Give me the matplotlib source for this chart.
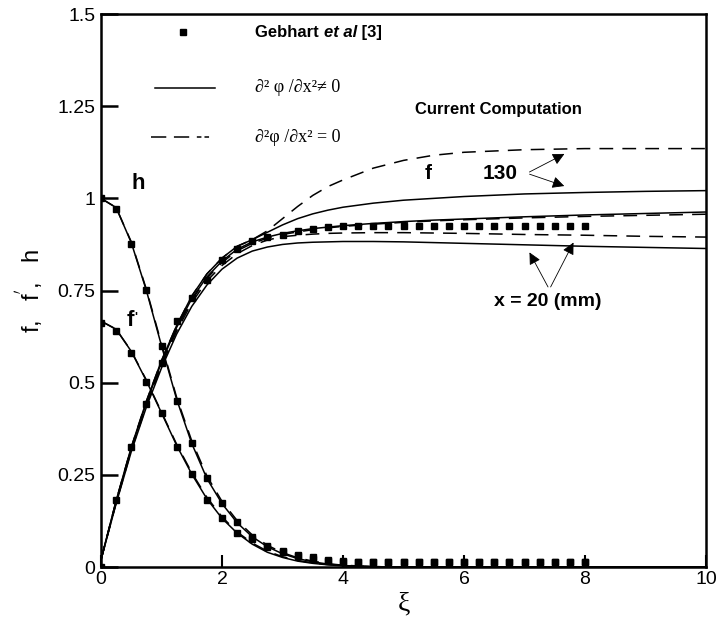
import matplotlib
matplotlib.use("Agg")
import matplotlib.pyplot as plt

plt.rcParams['font.family'] = ['Liberation Sans', 'DejaVu Sans']
plt.rcParams['font.size'] = 14

# ---- Gebhart et al [3] (square markers) ----
xi_m = [0, 0.25, 0.5, 0.75, 1.0, 1.25, 1.5, 1.75, 2.0, 2.25, 2.5, 2.75, 3.0,
        3.25, 3.5, 3.75, 4.0, 4.25, 4.5, 4.75, 5.0, 5.25, 5.5, 5.75, 6.0,
        6.25, 6.5, 6.75, 7.0, 7.25, 7.5, 7.75, 8.0]
h_m = [1.0, 0.97, 0.876, 0.751, 0.60, 0.451, 0.337, 0.241, 0.174, 0.123, 0.082,
       0.058, 0.044, 0.033, 0.027, 0.02, 0.016, 0.015, 0.014, 0.014, 0.014,
       0.014, 0.014, 0.014, 0.014, 0.014, 0.014, 0.014, 0.014, 0.014, 0.014,
       0.014, 0.014]
fp_m = [0.661, 0.641, 0.581, 0.503, 0.417, 0.326, 0.251, 0.182, 0.132, 0.093,
        0.075, 0.055, 0.04, 0.03, 0.022, 0.017, 0.015, 0.014, 0.014, 0.014,
        0.014, 0.014, 0.014, 0.014, 0.014, 0.014, 0.014, 0.014, 0.014, 0.014,
        0.014, 0.014, 0.014]
f_m = [0.0, 0.182, 0.325, 0.442, 0.554, 0.668, 0.729, 0.778, 0.833, 0.864,
       0.885, 0.894, 0.900, 0.911, 0.918, 0.922, 0.924, 0.925, 0.925, 0.925,
       0.925, 0.925, 0.925, 0.925, 0.925, 0.925, 0.925, 0.925, 0.925, 0.925,
       0.925, 0.925, 0.925]

# ---- current computation ----
xi = [0, 0.25, 0.5, 0.75, 1.0, 1.25, 1.5, 1.75, 2.0, 2.25, 2.5, 2.75, 3.0,
      3.25, 3.5, 3.75, 4.0, 4.5, 5.0, 5.5, 6.0, 7.0, 8.0, 9.0, 10.0]

h_solid = [1.0, 0.975, 0.88, 0.75, 0.60, 0.455, 0.335, 0.24, 0.172, 0.12, 0.082,
           0.055, 0.036, 0.023, 0.014, 0.008, 0.004, 0.001, 0, 0, 0, 0, 0, 0, 0]
h_dash = [1.0, 0.975, 0.882, 0.753, 0.605, 0.46, 0.342, 0.247, 0.178, 0.126,
          0.087, 0.059, 0.039, 0.025, 0.016, 0.009, 0.005, 0.001, 0, 0, 0, 0,
          0, 0, 0]
fp_solid = [0.667, 0.645, 0.585, 0.505, 0.418, 0.33, 0.252, 0.185, 0.132, 0.092,
            0.062, 0.04, 0.026, 0.016, 0.01, 0.006, 0.003, 0.001, 0, 0, 0, 0,
            0, 0, 0]
fp_dash = [0.667, 0.645, 0.586, 0.507, 0.42, 0.333, 0.256, 0.189, 0.136, 0.095,
           0.065, 0.043, 0.028, 0.018, 0.011, 0.007, 0.004, 0.001, 0, 0, 0, 0,
           0, 0, 0]

f130_dash = [0.02, 0.18, 0.325, 0.45, 0.56, 0.655, 0.735, 0.795, 0.838, 0.87,
             0.888, 0.912, 0.945, 0.978, 1.008, 1.032, 1.05, 1.082, 1.103,
             1.117, 1.125, 1.132, 1.135, 1.135, 1.135]
f130_solid = [0.02, 0.18, 0.325, 0.45, 0.56, 0.655, 0.735, 0.795, 0.838, 0.87,
              0.888, 0.908, 0.928, 0.945, 0.958, 0.968, 0.976, 0.987, 0.995,
              1.0, 1.005, 1.012, 1.016, 1.019, 1.021]
fmid_solid = [0.02, 0.178, 0.322, 0.446, 0.556, 0.65, 0.728, 0.787, 0.83, 0.862,
              0.882, 0.895, 0.905, 0.912, 0.918, 0.922, 0.926, 0.932, 0.937,
              0.941, 0.944, 0.95, 0.955, 0.959, 0.963]
fmid_dash = [0.02, 0.176, 0.32, 0.443, 0.552, 0.646, 0.724, 0.783, 0.826, 0.858,
             0.878, 0.892, 0.902, 0.909, 0.915, 0.92, 0.924, 0.93, 0.935,
             0.939, 0.942, 0.947, 0.951, 0.954, 0.957]
f20_dash = [0.02, 0.174, 0.316, 0.438, 0.546, 0.64, 0.717, 0.776, 0.818, 0.85,
            0.872, 0.887, 0.896, 0.9, 0.903, 0.905, 0.906, 0.907, 0.907,
            0.906, 0.905, 0.902, 0.9, 0.897, 0.895]
f20_solid = [0.02, 0.172, 0.313, 0.434, 0.54, 0.632, 0.707, 0.765, 0.808, 0.838,
             0.857, 0.868, 0.875, 0.879, 0.881, 0.882, 0.883, 0.883, 0.882,
             0.88, 0.878, 0.874, 0.87, 0.867, 0.864]

solid_curves = [h_solid, fp_solid, f130_solid, fmid_solid, f20_solid]
dash_curves = [h_dash, fp_dash, f130_dash, fmid_dash, f20_dash]

fig = plt.figure(figsize=(7.19, 6.32), dpi=100)
ax = fig.add_axes([0.1405, 0.1028, 0.8415, 0.8750])

for yy in solid_curves:
    ax.plot(xi, yy, color="black", lw=1.1)
for yy in dash_curves:
    ax.plot(xi, yy, color="black", lw=1.1, dashes=(9, 6))

for yy in [h_m, fp_m, f_m]:
    ax.plot(xi_m, yy, ls="none", marker="s", ms=4, color="black")

ax.set_xlim(0, 10)
ax.set_ylim(0, 1.5)
ax.set_xticks([0, 2, 4, 6, 8, 10])
ax.set_yticks([0, 0.25, 0.5, 0.75, 1.0, 1.25, 1.5])
ax.set_yticklabels(["0", "0.25", "0.5", "0.75", "1", "1.25", "1.5"])
ax.tick_params(axis="y", direction="in", length=12, width=1.8, labelsize=14, pad=4)
ax.tick_params(axis="x", direction="in", length=9, width=1.5, labelsize=14, pad=3)
for sp in ax.spines.values():
    sp.set_linewidth(1.8)

ax.set_xlabel("ξ", fontsize=20, family=["Liberation Serif", "DejaVu Serif"], labelpad=2)
ax.set_ylabel("f,   f$^{'}$,   h", fontsize=17, labelpad=8)

# curve labels
ax.text(0.5, 1.04, "h", fontsize=16, weight="bold", va="center")
t_fp = ax.text(0.42, 0.67, "f", fontsize=16, weight="bold", va="center")
ax.annotate("'", xy=(1.0, 1.0), xycoords=t_fp, fontsize=9, weight="bold",
            xytext=(0, -2), textcoords="offset points", ha="left", va="top")
ax.text(5.4, 1.068, "f", fontsize=15, weight="bold", ha="center", va="center")
ax.text(6.6, 1.068, "130", fontsize=15, weight="bold", ha="center", va="center")
ax.text(7.38, 0.72, "x = 20 (mm)", fontsize=14, weight="bold", ha="center", va="center")

arw = dict(arrowstyle="-|>", color="black", lw=0.6, mutation_scale=18)
for tip in [(7.7, 1.124), (7.7, 1.031)]:
    ax.annotate("", xy=tip, xytext=(7.04, 1.068), arrowprops=arw)
for tip in [(7.06, 0.86), (7.83, 0.887)]:
    ax.annotate("", xy=tip, xytext=(7.41, 0.753), arrowprops=arw)

# legend, drawn by hand
ax.plot([1.36], [1.45], ls="none", marker="s", ms=5, color="black")
t1 = ax.text(2.55, 1.45, "Gebhart ", fontsize=12, weight="bold", va="center")
t2 = ax.annotate("et al", xy=(1, 0.5), xycoords=t1, fontsize=12, weight="bold",
                 style="italic", va="center", ha="left")
ax.annotate(" [3]", xy=(1, 0.5), xycoords=t2, fontsize=12, weight="bold",
            va="center", ha="left")
ax.plot([0.9, 1.88], [1.30, 1.30], color="black", lw=1.1)
ax.plot([0.82, 1.88], [1.166, 1.166], color="black", lw=1.1,
        dashes=(10, 5, 10, 5, 3, 2, 3, 20))
serif = ["Liberation Serif", "DejaVu Serif"]
ax.text(2.55, 1.30, "∂² φ /∂x²≠ 0", fontsize=13, family=serif, va="center")
ax.text(2.55, 1.166, "∂²φ /∂x² = 0", fontsize=13, family=serif, va="center")
ax.text(5.19, 1.24, "Current Computation", fontsize=12, weight="bold", va="center")

fig.savefig("out.png", dpi=100)
